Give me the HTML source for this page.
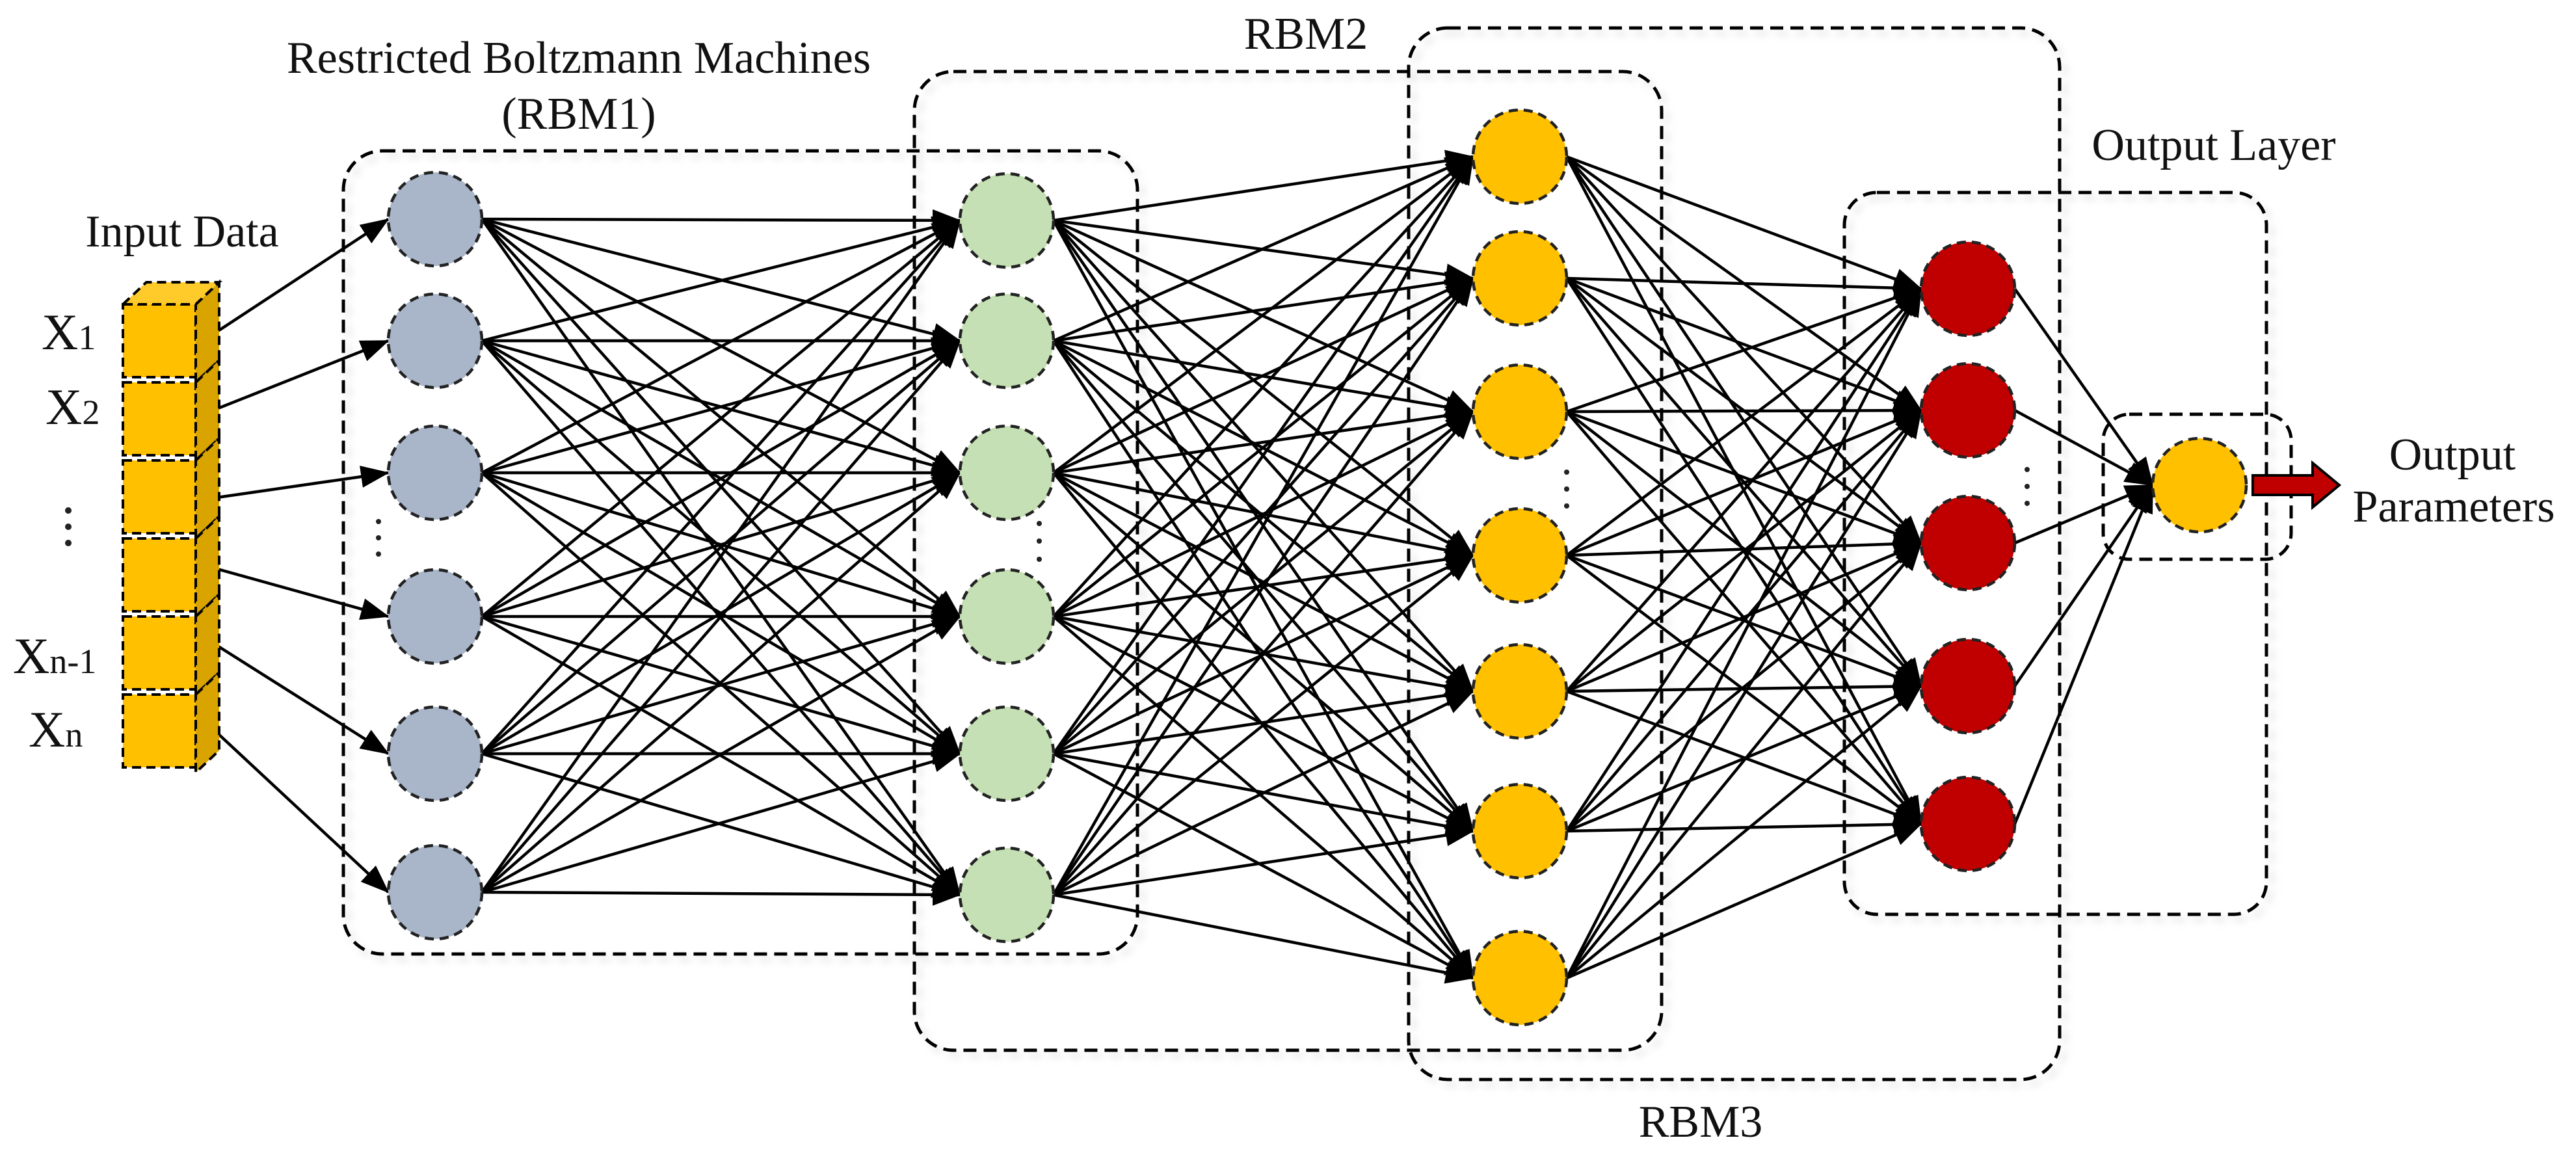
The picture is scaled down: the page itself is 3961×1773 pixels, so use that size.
<!DOCTYPE html>
<html><head><meta charset="utf-8"><style>
html,body{margin:0;padding:0;background:#fff}
svg{display:block}
text{font-family:"Liberation Serif",serif;fill:#111}
</style></head><body>
<svg id="s" width="3961" height="1773" viewBox="0 0 3961 1773" xmlns="http://www.w3.org/2000/svg">
<defs>
<marker id="ah" markerUnits="userSpaceOnUse" markerWidth="44" markerHeight="34" refX="42" refY="17" orient="auto">
<path d="M0,0 L44,17 L0,34 Z" fill="#000"/>
</marker>
<filter id="sh" x="-5%" y="-5%" width="110%" height="110%"><feGaussianBlur stdDeviation="6"/></filter>
</defs>
<g id="boxes" fill="none" stroke-width="5" stroke-dasharray="20 11">
<rect x="536" y="240" width="1221" height="1235" rx="60" stroke="#ddd" filter="url(#sh)"/>
<rect x="1414" y="118" width="1149" height="1505" rx="60" stroke="#ddd" filter="url(#sh)"/>
<rect x="2174" y="51" width="1001" height="1617" rx="60" stroke="#ddd" filter="url(#sh)"/>
<rect x="2844" y="304" width="649" height="1110" rx="50" stroke="#ddd" filter="url(#sh)"/>
<rect x="528" y="232" width="1221" height="1235" rx="60" stroke="#000"/>
<rect x="1406" y="110" width="1149" height="1505" rx="60" stroke="#000"/>
<rect x="2166" y="43" width="1001" height="1617" rx="60" stroke="#000"/>
<rect x="2836" y="296" width="649" height="1110" rx="50" stroke="#000"/>
<rect x="3234" y="637" width="289" height="223" rx="40" stroke="#000"/>
</g>
<g id="lines" stroke="#000" stroke-width="4.5" fill="none"></g>
<g id="stack"></g>
<g id="nodes"></g>
<path d="M3464,731 L3556,731 L3556,712 L3597,746 L3556,780 L3556,761 L3464,761 Z" fill="#c00000" stroke="#000" stroke-width="4"/>
<g font-size="70" font-family="Liberation Serif, serif">
<text x="890" y="112" text-anchor="middle">Restricted Boltzmann Machines</text>
<text x="890" y="198" text-anchor="middle">(RBM1)</text>
<text x="2008" y="75" text-anchor="middle">RBM2</text>
<text x="2615" y="1748" text-anchor="middle">RBM3</text>
<text x="3404" y="246" text-anchor="middle">Output Layer</text>
<text x="3771" y="722" text-anchor="middle">Output</text>
<text x="3773" y="802" text-anchor="middle">Parameters</text>
<text x="280" y="379" text-anchor="middle">Input Data</text>
</g>
<g font-size="78" font-family="Liberation Serif, serif">
<text x="64" y="537">X<tspan font-size="54">1</tspan></text>
<text x="70" y="652">X<tspan font-size="54">2</tspan></text>
<text x="20" y="1035">X<tspan font-size="54">n-1</tspan></text>
<text x="44" y="1148">X<tspan font-size="54">n</tspan></text>
</g>
<g fill="#222">
<circle cx="105" cy="785" r="5"/><circle cx="105" cy="810" r="5"/><circle cx="105" cy="835" r="5"/>
<circle cx="582" cy="802" r="4"/><circle cx="582" cy="827" r="4"/><circle cx="582" cy="852" r="4"/>
<circle cx="1598" cy="805" r="4"/><circle cx="1598" cy="832" r="4"/><circle cx="1598" cy="860" r="4"/>
<circle cx="2409" cy="726" r="4"/><circle cx="2409" cy="752" r="4"/><circle cx="2409" cy="778" r="4"/>
<circle cx="3117" cy="722" r="4"/><circle cx="3117" cy="748" r="4"/><circle cx="3117" cy="774" r="4"/>
</g>
</svg>
<script>
var NS="http://www.w3.org/2000/svg";
function el(t,a,p){var e=document.createElementNS(NS,t);for(var k in a)e.setAttribute(k,a[k]);p.appendChild(e);return e;}
var R=72;
var cols=[
 {x:669,ys:[337,524,727,948,1159,1372],c:"#a9b6ca"},
 {x:1548,ys:[339,524,727,948,1159,1376],c:"#c5e0b4"},
 {x:2337,ys:[241,428,633,854,1063,1278,1504],c:"#ffc000"},
 {x:3026,ys:[444,631,835,1055,1267],c:"#c00000"},
 {x:3382,ys:[746],c:"#ffc000"}
];
var L=document.getElementById("lines"),N=document.getElementById("nodes"),S=document.getElementById("stack");
for(var i=0;i<cols.length-1;i++){var a=cols[i],b=cols[i+1];
 a.ys.forEach(function(y1){b.ys.forEach(function(y2){
  el("line",{x1:a.x+R,y1:y1,x2:b.x-R,y2:y2,"marker-end":"url(#ah)"},L);});});}
var sy=[519,634,767,871,984,1114];
sy.forEach(function(y,k){el("line",{x1:320,y1:y,x2:669-R,y2:cols[0].ys[k],"marker-end":"url(#ah)"},L);});
for(var k=0;k<6;k++){var y=468+k*120;
 el("rect",{x:189,y:y,width:112,height:112,fill:"#ffc000",stroke:"#000","stroke-width":4,"stroke-dasharray":"14 8"},S);
 el("path",{d:"M301,"+y+" L337,"+(y-34)+" L337,"+(y+86)+" L301,"+(y+120)+" Z",fill:"#d9a300",stroke:"#000","stroke-width":4,"stroke-dasharray":"14 8"},S);
}
el("path",{d:"M189,468 L225,434 L337,434 L301,468 Z",fill:"#ffcb2a",stroke:"#000","stroke-width":4,"stroke-dasharray":"14 8"},S);
cols.forEach(function(c){c.ys.forEach(function(y){
 el("circle",{cx:c.x,cy:y,r:R,fill:c.c,stroke:"#222","stroke-width":4.5,"stroke-dasharray":"14 9"},N);});});
</script>
</body></html>
